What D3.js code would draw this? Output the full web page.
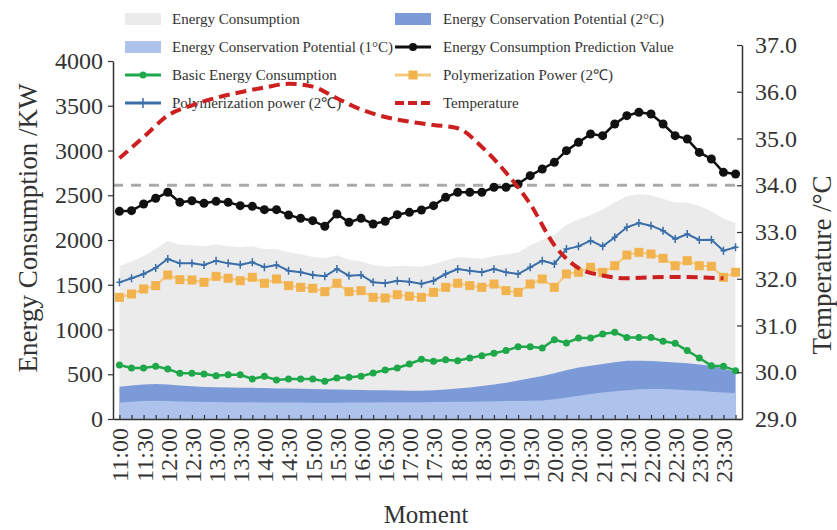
<!DOCTYPE html>
<html>
<head>
<meta charset="utf-8">
<script src="https://cdn.jsdelivr.net/npm/d3@7"></script>
<style>
  body { margin: 0; background: #fff; }
  text { font-family: "Liberation Serif", "Times New Roman", serif; }
</style>
</head>
<body>
<div id="chart"></div>
<script>
// data (15 min steps)
const times = [
  "11:00", "11:15", "11:30", "11:45", "12:00", "12:15", "12:30", "12:45",
  "13:00", "13:15", "13:30", "13:45", "14:00", "14:15", "14:30", "14:45",
  "15:00", "15:15", "15:30", "15:45", "16:00", "16:15", "16:30", "16:45",
  "17:00", "17:15", "17:30", "17:45", "18:00", "18:15", "18:30", "18:45",
  "19:00", "19:15", "19:30", "19:45", "20:00", "20:15", "20:30", "20:45",
  "21:00", "21:15", "21:30", "21:45", "22:00", "22:15", "22:30", "22:45",
  "23:00", "23:15", "23:30", "23:45",
];
const tickLabels = [
  "11:00", "11:30", "12:00", "12:30", "13:00", "13:30", "14:00", "14:30",
  "15:00", "15:30", "16:00", "16:30", "17:00", "17:30", "18:00", "18:30",
  "19:00", "19:30", "20:00", "20:30", "21:00", "21:30", "22:00", "22:30",
  "23:00", "23:30",
];
const leftTicks = [0, 500, 1000, 1500, 2000, 2500, 3000, 3500, 4000];
const rightTicks = [29, 30, 31, 32, 33, 34, 35, 36, 37];

// Energy Consumption (grey area)
const consumption = [
  1710, 1760, 1820, 1900, 1990, 1950, 1940, 1930, 1950, 1930, 1920, 1930,
  1900, 1900, 1860, 1840, 1810, 1800, 1830, 1780, 1760, 1720, 1700, 1710,
  1710, 1700, 1730, 1770, 1810, 1800, 1790, 1820, 1840, 1860, 1940, 2000,
  2060, 2170, 2230, 2280, 2340, 2420, 2490, 2510, 2500, 2460, 2420, 2420,
  2380, 2320, 2240, 2190,
];
// Energy Conservation Potential (2°C)
const potential2 = [
  360, 375, 385, 390, 385, 375, 365, 358, 355, 352, 350, 348, 345, 342, 340,
  338, 335, 332, 330, 328, 325, 322, 320, 318, 316, 316, 322, 330, 340, 352,
  370, 385, 405, 430, 455, 480, 510, 545, 575, 595, 615, 635, 650, 652, 648,
  640, 632, 622, 610, 595, 565, 525,
];
// Energy Conservation Potential (1°C)
const potential1 = [
  185, 192, 200, 205, 200, 195, 192, 190, 190, 188, 188, 186, 185, 185, 184,
  183, 182, 182, 182, 183, 184, 185, 186, 187, 188, 188, 189, 190, 192, 194,
  196, 198, 200, 202, 204, 208, 220, 240, 260, 278, 295, 310, 322, 332, 336,
  335, 330, 322, 315, 305, 296, 290,
];
// Energy Consumption Prediction Value
const prediction = [
  2320, 2328, 2402, 2466, 2533, 2421, 2439, 2410, 2432, 2421, 2384, 2376,
  2339, 2339, 2279, 2242, 2216, 2153, 2291, 2198, 2242, 2179, 2209, 2283,
  2309, 2335, 2384, 2477, 2533, 2533, 2533, 2589, 2589, 2626, 2719, 2793,
  2868, 2998, 3091, 3184, 3166, 3296, 3389, 3427, 3408, 3296, 3166, 3128,
  2979, 2905, 2756, 2737,
];
// Basic Energy Consumption
const basic = [
  603, 570, 570, 589, 559, 510, 510, 503, 484, 495, 495, 447, 477, 436, 447,
  447, 447, 421, 458, 466, 477, 514, 547, 570, 615, 667, 644, 663, 652, 682,
  708, 734, 764, 808, 808, 793, 886, 849, 905, 905, 950, 968, 912, 912, 912,
  868, 845, 764, 682, 596, 589, 540,
];
// Polymerization power (2℃) - blue
const powerBlue = [
  1527, 1572, 1620, 1687, 1788, 1739, 1739, 1721, 1769, 1739, 1724, 1751,
  1695, 1721, 1657, 1639, 1609, 1594, 1676, 1601, 1609, 1527, 1516, 1545,
  1534, 1512, 1545, 1620, 1676, 1657, 1639, 1676, 1639, 1620, 1695, 1769,
  1732, 1899, 1929, 1992, 1929, 2030, 2142, 2190, 2160, 2104, 2011, 2067,
  2000, 2003, 1881, 1918,
];
// Polymerization Power (2℃) - orange
const powerOrange = [
  1359, 1397, 1453, 1490, 1609, 1557, 1553, 1527, 1594, 1572, 1545, 1583,
  1516, 1564, 1490, 1471, 1460, 1423, 1516, 1423, 1434, 1359, 1352, 1389,
  1371, 1359, 1415, 1471, 1516, 1490, 1471, 1508, 1434, 1415, 1508, 1564,
  1471, 1620, 1639, 1695, 1639, 1713, 1832, 1862, 1844, 1795, 1713, 1769,
  1713, 1706, 1583, 1639,
];
// Temperature (°C) at every tick label (30 min)
const temperature = [
  34.58, 35.03, 35.49, 35.71, 35.87, 35.99, 36.09, 36.17, 36.11, 35.86,
  35.62, 35.46, 35.36, 35.29, 35.22, 34.82, 34.27, 33.6, 32.72, 32.23,
  32.07, 32.01, 32.03, 32.04, 32.03, 32.01,
];
const tempThreshold = 34.0;

const legendItems = [
  { name: "Energy Consumption", type: "rect", color: "#ebebeb" },
  { name: "Energy Conservation Potential (2°C)", type: "rect", color: "#7d9ad8" },
  { name: "Energy Conservation Potential (1°C)", type: "rect", color: "#adc3ec" },
  { name: "Energy Consumption Prediction Value", type: "line", color: "#111", marker: "circle" },
  { name: "Basic Energy Consumption", type: "line", color: "#1fa84a", marker: "dot" },
  { name: "Polymerization Power (2℃)", type: "line", color: "#f5c97a", marker: "square" },
  { name: "Polymerization power (2℃)", type: "line", color: "#3a6ea8", marker: "plus" },
  { name: "Temperature", type: "dash", color: "#cc1f1f" },
];

// layout
const width = 837;
const height = 530;
const plot = { left: 113, right: 742, top: 61, bottom: 419 };

const svg = d3
  .select("#chart")
  .append("svg")
  .attr("width", width)
  .attr("height", height);

const toMin = (t) => {
  const [h, m] = t.split(":").map(Number);
  return h * 60 + m;
};
const fmtMin = (v) => `${Math.floor(v / 60)}:${String(v % 60).padStart(2, "0")}`;

const x = d3.scaleLinear().domain([652, 1433]).range([plot.left, plot.right]);
const y = d3.scaleLinear().domain([0, 4000]).range([plot.bottom, plot.top]);
const yT = d3.scaleLinear().domain([29, 37]).range([plot.bottom, 45]);

const xi = (d, i) => x(toMin(times[i]));

// legend (drawn first, lines pass over it)
renderLegend();

// areas
const area = (data) =>
  d3.area().x((d, i) => xi(d, i)).y0(y(0)).y1((d) => y(d))(data);

svg.append("path").attr("d", area(consumption)).attr("fill", "#ebebeb");
svg.append("path").attr("d", area(potential2)).attr("fill", "#7d9ad8");
svg.append("path").attr("d", area(potential1)).attr("fill", "#adc3ec");

// threshold line
svg
  .append("line")
  .attr("x1", plot.left)
  .attr("x2", plot.right)
  .attr("y1", yT(tempThreshold))
  .attr("y2", yT(tempThreshold))
  .attr("stroke", "#aaa")
  .attr("stroke-width", 3)
  .attr("stroke-dasharray", "10,8");

const line = d3.line().x((d, i) => xi(d, i)).y((d) => y(d));

// orange
svg
  .append("path")
  .attr("d", line(powerOrange))
  .attr("fill", "none")
  .attr("stroke", "#f5c97a")
  .attr("stroke-width", 2);
svg
  .selectAll(".sq")
  .data(powerOrange)
  .enter()
  .append("rect")
  .attr("x", (d, i) => xi(d, i) - 4.5)
  .attr("y", (d) => y(d) - 4.5)
  .attr("width", 9)
  .attr("height", 9)
  .attr("fill", "#f2b34e");

// blue
svg
  .append("path")
  .attr("d", line(powerBlue))
  .attr("fill", "none")
  .attr("stroke", "#3a6ea8")
  .attr("stroke-width", 2);
svg
  .selectAll(".plus")
  .data(powerBlue)
  .enter()
  .append("path")
  .attr("d", "M0,-4V4M-3,0H3")
  .attr("transform", (d, i) => `translate(${xi(d, i)},${y(d)})`)
  .attr("stroke", "#3a6ea8")
  .attr("stroke-width", 1.5);

// green
svg
  .append("path")
  .attr("d", line(basic))
  .attr("fill", "none")
  .attr("stroke", "#1fa84a")
  .attr("stroke-width", 2.5);
svg
  .selectAll(".dot")
  .data(basic)
  .enter()
  .append("circle")
  .attr("cx", (d, i) => xi(d, i))
  .attr("cy", (d) => y(d))
  .attr("r", 3.5)
  .attr("fill", "#1fa84a");

// black
svg
  .append("path")
  .attr("d", line(prediction))
  .attr("fill", "none")
  .attr("stroke", "#111")
  .attr("stroke-width", 2.5);
svg
  .selectAll(".circ")
  .data(prediction)
  .enter()
  .append("circle")
  .attr("cx", (d, i) => xi(d, i))
  .attr("cy", (d) => y(d))
  .attr("r", 4.5)
  .attr("fill", "#111");

// temperature
svg
  .append("path")
  .attr(
    "d",
    d3
      .line()
      .curve(d3.curveMonotoneX)
      .x((d, i) => x(toMin(tickLabels[i])))
      .y((d) => yT(d))(temperature)
  )
  .attr("fill", "none")
  .attr("stroke", "#cc1f1f")
  .attr("stroke-width", 4)
  .attr("stroke-dasharray", "11,6");

// axes
const axisStyle = (g) => {
  g.select(".domain").attr("stroke", "#333").attr("stroke-width", 1.5);
  g.selectAll(".tick line").attr("stroke", "#333").attr("stroke-width", 1.2);
  g.selectAll("text").attr("fill", "#333").attr("font-family", "Liberation Serif, serif");
};

svg
  .append("g")
  .attr("transform", `translate(${plot.left},0)`)
  .call(
    d3
      .axisLeft(y)
      .tickValues(leftTicks)
      .tickSize(5)
      .tickSizeOuter(0)
      .tickPadding(5)
      .tickFormat(d3.format("d"))
  )
  .call(axisStyle)
  .call((g) => g.selectAll("text").attr("font-size", 24));

svg
  .append("g")
  .attr("transform", `translate(${plot.right},0)`)
  .call(
    d3
      .axisRight(yT)
      .tickValues(rightTicks)
      .tickSize(-5)
      .tickSizeOuter(0)
      .tickPadding(13)
      .tickFormat(d3.format(".1f"))
  )
  .call(axisStyle)
  .call((g) => g.selectAll("text").attr("font-size", 24));

svg
  .append("g")
  .attr("transform", `translate(0,${plot.bottom})`)
  .call(
    d3
      .axisBottom(x)
      .tickValues(times.map(toMin))
      .tickSize(-4)
      .tickSizeOuter(0)
      .tickFormat((v) => (tickLabels.includes(fmtMin(v)) ? fmtMin(v) : ""))
  )
  .call(axisStyle)
  .call((g) =>
    g
      .selectAll("text")
      .attr("font-size", 24)
      .attr("transform", "rotate(-90)")
      .attr("x", -9)
      .attr("y", 0)
      .attr("dy", "0.35em")
      .attr("text-anchor", "end")
  );

// axis titles
svg
  .append("text")
  .attr("transform", "translate(37,228) rotate(-90)")
  .attr("text-anchor", "middle")
  .attr("font-size", 27)
  .attr("fill", "#333")
  .text("Energy Consumption /KW");

svg
  .append("text")
  .attr("transform", "translate(831,265) rotate(-90)")
  .attr("text-anchor", "middle")
  .attr("font-size", 27)
  .attr("fill", "#333")
  .text("Temperature /°C");

svg
  .append("text")
  .attr("x", 426)
  .attr("y", 523)
  .attr("text-anchor", "middle")
  .attr("font-size", 25)
  .attr("fill", "#333")
  .text("Moment");

function renderLegend() {
  const colX = [125, 395];
  const rowY = [19, 47, 75, 103];
  const g = svg.append("g").attr("id", "legend");
  legendItems.forEach((d, i) => {
    const lx = colX[i % 2];
    const ly = rowY[Math.floor(i / 2)];
    const item = g.append("g").attr("transform", `translate(${lx},${ly})`);
    if (d.type === "rect") {
      item.append("rect").attr("x", 0).attr("y", -6).attr("width", 36).attr("height", 12).attr("fill", d.color);
    } else {
      item
        .append("line")
        .attr("x1", 0)
        .attr("x2", 36)
        .attr("stroke", d.color)
        .attr("stroke-width", d.type === "dash" ? 4 : 3)
        .attr("stroke-dasharray", d.type === "dash" ? "9,4" : null);
      if (d.marker === "circle") item.append("circle").attr("cx", 18).attr("r", 4).attr("fill", d.color);
      if (d.marker === "dot") item.append("circle").attr("cx", 18).attr("r", 3.5).attr("fill", d.color);
      if (d.marker === "square")
        item.append("rect").attr("x", 13.5).attr("y", -4.5).attr("width", 9).attr("height", 9).attr("fill", "#f2b34e");
      if (d.marker === "plus")
        item.append("path").attr("d", "M18,-5V5").attr("stroke", d.color).attr("stroke-width", 1.5);
    }
    item
      .append("text")
      .attr("x", i % 2 === 0 ? 47 : 48)
      .attr("dy", "0.35em")
      .attr("font-size", 15)
      .attr("fill", "#333")
      .text(d.name);
  });
}
</script>
</body>
</html>
